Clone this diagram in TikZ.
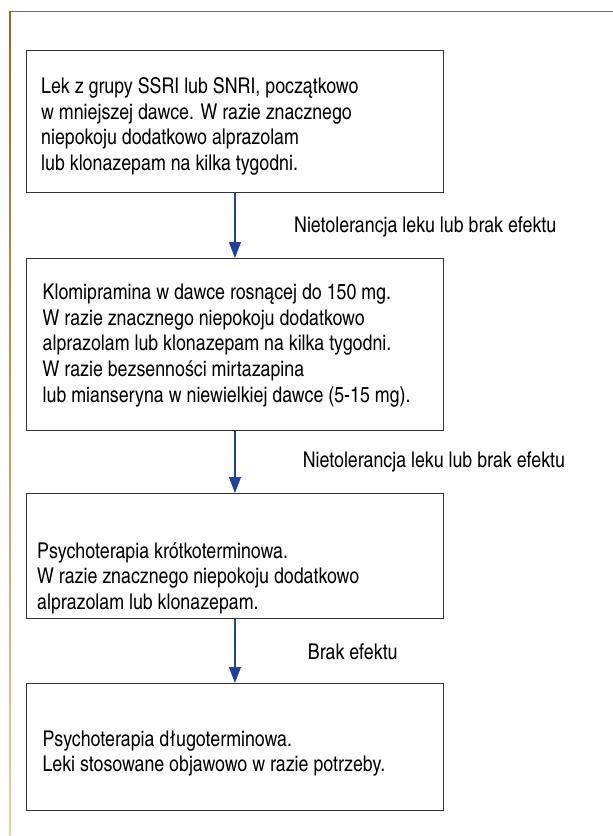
\documentclass[tikz,border=0pt]{standalone}
\usepackage{fontspec}
\setmainfont{TeX Gyre Heros Cn}
\usepackage{tikz}
\usetikzlibrary{arrows.meta}
\definecolor{framebrown}{HTML}{8C6A2C}
\definecolor{framelight}{HTML}{E6D0A8}
\definecolor{arrowblue}{HTML}{23409A}
\definecolor{boxline}{HTML}{333333}

\begin{document}
\begin{tikzpicture}[x=1pt,y=-1pt,
	box/.style={draw=boxline,line width=1.4pt,minimum width=417.5pt,inner sep=0pt,anchor=north west},
	txt/.style={align=left,inner sep=0pt,anchor=west,font=\fontsize{21.7}{25.6}\selectfont},
	cond/.style={inner sep=0pt,anchor=west,font=\fontsize{21.7}{25.6}\selectfont},
	flow/.style={draw=arrowblue,line width=1.2pt,-{Triangle[width=12pt,length=16pt]}}]
	\useasboundingbox (0,0) rectangle (613,836);

	% frame on the left and on top
	\shade[top color=framebrown,bottom color=framelight] (9.3,11) rectangle (10.7,836);
	\fill[framebrown] (9.3,10.8) rectangle (613,12.2);

	\foreach \n / \t / \h in {1/50/142,2/258/172,3/493/125,4/683/127} { \node[box,minimum height=\h] (b\n) at (25.5,\t) {};}

	\node[txt] (t1) at (41,126.5) {Lek z grupy SSRI lub SNRI, początkowo\\w mniejszej dawce. W razie znacznego\\niepokoju dodatkowo alprazolam\\lub klonazepam na kilka tygodni.};
	\node[txt] (t2) at (42.5,345.5) {Klomipramina w dawce rosnącej do 150 mg.\\W razie znacznego niepokoju dodatkowo\\alprazolam lub klonazepam na kilka tygodni.\\W razie bezsenności mirtazapina\\lub mianseryna w niewielkiej dawce (5-15 mg).};
	\node[txt] (t3) at (37,578) {Psychoterapia krótkoterminowa.\\W razie znacznego niepokoju dodatkowo\\alprazolam lub klonazepam.};
	\node[txt] (t4) at (42.3,753.5) {Psychoterapia długoterminowa.\\Leki stosowane objawowo w razie potrzeby.};

	\foreach \a / \b in {b1/b2,b2/b3,b3/b4} { \draw[flow] (\a.south) -- (\b.north);}

	\node[cond] (c1) at (294,227) {Nietolerancja leku lub brak efektu};
	\node[cond] (c2) at (302.7,462) {Nietolerancja leku lub brak efektu};
	\node[cond] (c3) at (307.7,652) {Brak efektu};
\end{tikzpicture}
\end{document}
